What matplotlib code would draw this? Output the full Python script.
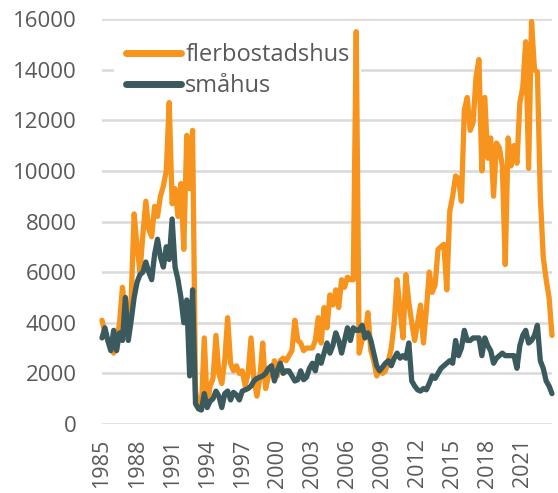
import matplotlib
matplotlib.use("Agg")
import matplotlib.pyplot as plt
import numpy as np

# Quarterly data, 1985 Q1 .. 2023 Q3
flerbostadshus = [
    4100, 3600, 3300, 3000,   # 1985
    2800, 3200, 4000, 5400,   # 1986
    4300, 4000, 5000, 8300,   # 1987
    7000, 6000, 7500, 8800,   # 1988
    7700, 7400, 8600, 8200,   # 1989
    9000, 9400, 10000, 12700, # 1990
    8700, 9300, 8200, 9500,   # 1991
    6900, 11400, 9300, 11600, # 1992
    1300, 700, 600, 3400,     # 1993
    700, 1500, 1800, 3500,    # 1994
    2000, 1600, 2500, 4200,   # 1995
    2400, 2100, 2300, 2000,   # 1996
    2100, 1500, 2000, 3400,   # 1997
    1800, 1100, 1800, 3200,   # 1998
    1400, 1900, 2000, 2500,   # 1999
    1900, 2500, 2600, 2500,   # 2000
    2700, 2900, 4100, 3300,   # 2001
    3200, 2900, 3000, 3000,   # 2002
    3000, 3300, 4200, 3200,   # 2003
    4600, 3800, 5100, 4700,   # 2004
    5300, 4600, 5700, 5400,   # 2005
    5800, 5700, 5700, 15500,  # 2006
    2800, 3300, 3500, 4400,   # 2007
    2900, 2500, 1900, 2100,   # 2008
    2000, 2100, 2500, 3000,   # 2009
    4000, 5700, 4500, 3400,   # 2010
    5900, 4800, 4000, 3300,   # 2011
    4000, 4700, 3200, 4500,   # 2012
    6000, 5200, 5500, 6900,   # 2013
    7000, 7100, 5300, 8400,   # 2014
    9000, 9800, 9700, 8800,   # 2015
    12400, 12900, 11600, 11900,  # 2016
    13700, 14400, 10000, 12900,  # 2017
    10500, 11300, 9000, 11100,   # 2018
    10900, 10200, 6300, 11300,   # 2019
    10200, 11000, 10300, 12700,  # 2020
    13300, 15100, 10100, 15900,  # 2021
    14000, 13900, 9000, 6600,    # 2022
    5700, 5000, 3500,            # 2023
]

smahus = [
    3400, 3800, 3300, 2900,   # 1985
    3700, 2900, 3600, 3300,   # 1986
    5000, 3300, 4100, 5000,   # 1987
    5600, 5900, 6000, 6400,   # 1988
    6000, 5700, 6700, 7300,   # 1989
    6600, 6200, 7000, 6500,   # 1990
    8100, 6200, 5700, 5000,   # 1991
    4000, 4900, 1900, 5300,   # 1992
    800, 600, 550, 1200,      # 1993
    650, 900, 1000, 1300,     # 1994
    1100, 650, 1200, 1300,    # 1995
    950, 1250, 1150, 950,     # 1996
    1300, 1350, 1400, 1500,   # 1997
    1700, 1800, 1850, 1900,   # 1998
    2000, 2200, 2300, 1700,   # 1999
    2100, 2400, 2000, 2100,   # 2000
    2100, 1900, 1700, 1750,   # 2001
    2100, 1750, 1850, 2200,   # 2002
    2400, 2100, 2700, 2400,   # 2003
    2800, 3200, 2800, 3100,   # 2004
    3600, 3300, 2800, 3300,   # 2005
    3800, 3300, 3800, 3700,   # 2006
    3700, 3900, 3400, 3600,   # 2007
    3300, 2800, 2300, 2100,   # 2008
    2250, 2400, 2500, 2300,   # 2009
    2600, 2800, 2600, 2700,   # 2010
    2600, 3200, 1700, 1500,   # 2011
    1350, 1300, 1400, 1350,   # 2012
    1600, 1900, 1800, 2000,   # 2013
    2200, 2300, 2400, 2500,   # 2014
    2400, 3300, 2700, 3000,   # 2015
    3700, 3300, 3300, 3400,   # 2016
    3400, 3400, 2700, 3400,   # 2017
    3100, 2900, 2400, 2600,   # 2018
    2700, 2800, 2700, 2700,   # 2019
    2700, 2700, 2200, 3100,   # 2020
    3500, 3700, 3200, 3300,   # 2021
    3500, 3900, 2500, 2200,   # 2022
    1700, 1500, 1200,         # 2023
]

tick_years = [1985, 1988, 1991, 1994, 1997, 2000, 2003, 2006, 2009, 2012, 2015, 2018, 2021]
y_ticks = [0, 2000, 4000, 6000, 8000, 10000, 12000, 14000, 16000]
series_names = ["flerbostadshus", "småhus"]

ORANGE = "#F7941D"
TEAL = "#3B5A5E"
GREY = "#595959"
GRID = "#D9D9D9"

plt.rcParams['font.family'] = ['Open Sans', 'DejaVu Sans']

fig = plt.figure(figsize=(5.58, 4.93), dpi=100)
ax = fig.add_axes([102/558, 1 - 424/493, (552 - 102)/558, (424 - 19)/493])

x = np.arange(len(flerbostadshus))
ax.plot(x, flerbostadshus, color=ORANGE, lw=3.8, label=series_names[0],
        solid_joinstyle='round', solid_capstyle='round', clip_on=False, zorder=3)
ax.plot(np.arange(len(smahus)), smahus, color=TEAL, lw=3.8, label=series_names[1],
        solid_joinstyle='round', solid_capstyle='round', clip_on=False, zorder=4)

ax.set_xlim(0, len(flerbostadshus) - 1)
ax.set_ylim(0, 16000)
ax.set_yticks(y_ticks)
ax.set_yticklabels([str(v) for v in y_ticks])
ax.set_xticks([(yr - 1985) * 4 for yr in tick_years])
ax.set_xticklabels([str(yr) for yr in tick_years], rotation=90)

ax.grid(axis='y', color=GRID, lw=1.8, zorder=0)
ax.set_axisbelow(True)
for s in ax.spines.values():
    s.set_visible(False)
ax.tick_params(axis='both', length=0, colors=GREY, labelsize=16)
ax.tick_params(axis='y', pad=18)
ax.tick_params(axis='x', pad=10.5, labelsize=15.5)

leg = ax.legend(loc='upper left', bbox_to_anchor=(114/558, 1 - 31/493),
                bbox_transform=fig.transFigure, frameon=True, fancybox=False,
                facecolor='white', edgecolor='none', framealpha=1,
                fontsize=17, handlelength=2.35, handletextpad=0.17,
                labelspacing=0.3, borderpad=0.5, borderaxespad=0)
for t in leg.get_texts():
    t.set_color(GREY)
for h in leg.get_lines():
    h.set_linewidth(5)
leg.set_zorder(2.5)

fig.savefig("out.png", dpi=100)
